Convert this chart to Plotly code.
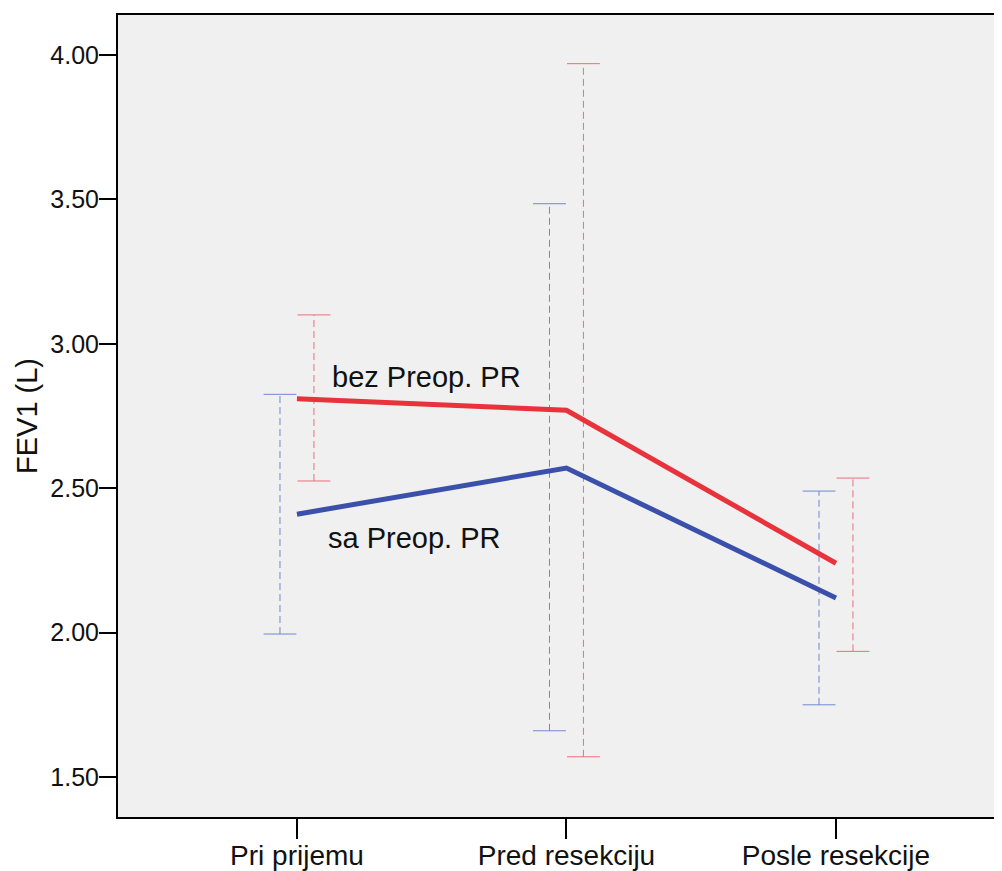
import plotly.graph_objects as go

categories = ["Pri prijemu", "Pred resekciju", "Posle resekcije"]
bez_mean = [2.81, 2.77, 2.24]
bez_lo = [2.525, 1.57, 1.935]
bez_hi = [3.10, 3.97, 2.535]
sa_mean = [2.41, 2.57, 2.12]
sa_lo = [1.995, 1.66, 1.75]
sa_hi = [2.825, 3.485, 2.49]
ytick_vals = [1.5, 2.0, 2.5, 3.0, 3.5, 4.0]
ytick_text = ["1.50", "2.00", "2.50", "3.00", "3.50", "4.00"]

RED = "#e8323c"
BLUE = "#3a50aa"
RED_EB = "#e8707a"
BLUE_EB = "#7286d0"
OFF = 0.063
CAP = 0.061

xs = list(range(len(categories)))

def errbar(offset, lo, hi, color):
    vx, vy, cx, cy = [], [], [], []
    for i, (l, h) in enumerate(zip(lo, hi)):
        x = i + offset
        vx += [x, x, None]
        vy += [l, h, None]
        cx += [x - CAP, x + CAP, None, x - CAP, x + CAP, None]
        cy += [l, l, None, h, h, None]
    return [
        go.Scatter(x=vx, y=vy, mode="lines", line=dict(color=color, width=1, dash="7px,4px"),
                   hoverinfo="skip", showlegend=False),
        go.Scatter(x=cx, y=cy, mode="lines", line=dict(color=color, width=1),
                   hoverinfo="skip", showlegend=False),
    ]

fig = go.Figure()
for t in errbar(-OFF, sa_lo, sa_hi, BLUE_EB):
    fig.add_trace(t)
for t in errbar(OFF, bez_lo, bez_hi, RED_EB):
    fig.add_trace(t)
fig.add_trace(go.Scatter(x=xs, y=bez_mean, mode="lines", line=dict(color=RED, width=5),
                         name="bez Preop. PR", showlegend=False))
fig.add_trace(go.Scatter(x=xs, y=sa_mean, mode="lines", line=dict(color=BLUE, width=5),
                         name="sa Preop. PR", showlegend=False))

FONT = "Liberation Sans, Arial, sans-serif"
TXT = "#111111"

fig.add_annotation(x=0.124, y=2.885, xref="x", yref="y", text="bez Preop. PR",
                   showarrow=False, xanchor="left", yanchor="middle",
                   font=dict(family=FONT, size=29, color=TXT))
fig.add_annotation(x=0.109, y=2.328, xref="x", yref="y", text="sa Preop. PR",
                   showarrow=False, xanchor="left", yanchor="middle",
                   font=dict(family=FONT, size=29, color=TXT))
fig.add_annotation(x=(19 - 110) / 884, y=0.5, xref="paper", yref="paper", text="FEV1 (L)",
                   showarrow=False, textangle=-90, xanchor="center", yanchor="middle",
                   font=dict(family=FONT, size=29, color=TXT))

fig.update_layout(
    width=994, height=871,
    margin=dict(l=110, r=0, t=7, b=62, autoexpand=False),
    paper_bgcolor="white", plot_bgcolor="#f0f0f0",
    font=dict(family=FONT, size=25, color=TXT),
    showlegend=False,
)
fig.update_xaxes(
    range=[-0.664, 2.616], tickvals=xs, ticktext=categories, automargin=False,
    showgrid=False, zeroline=False, showline=True, linecolor="black", linewidth=2,
    mirror=True, ticks="outside", ticklen=20, tickwidth=2, tickcolor="black",
    ticklabelstandoff=-8,
    tickfont=dict(family=FONT, size=28, color=TXT),
)
fig.update_yaxes(
    range=[1.3615, 4.1385], tickvals=ytick_vals, ticktext=ytick_text, automargin=False,
    showgrid=False, zeroline=False, showline=True, linecolor="black", linewidth=2,
    mirror=False, ticks="outside", ticklen=17, tickwidth=2, tickcolor="black",
    ticklabelstandoff=-5,
    tickfont=dict(family=FONT, size=25, color=TXT),
)

fig.write_html("out.html")
